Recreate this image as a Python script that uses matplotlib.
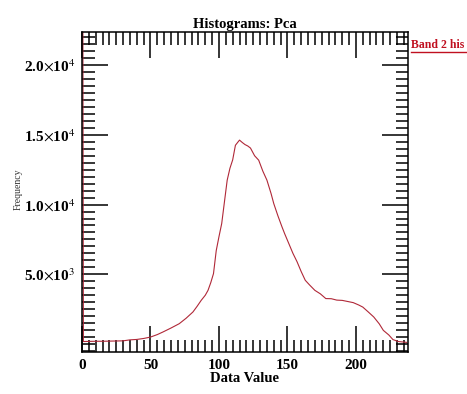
import numpy as np
import matplotlib.pyplot as plt
from matplotlib.lines import Line2D
from matplotlib.ticker import MultipleLocator

# Histogram of band 2
data_value = [0, 1, 5, 10, 15, 20, 25, 30, 35, 40, 45, 50, 55, 59, 65, 71, 76, 81, 84,
              87, 90, 92, 94, 96, 98, 100, 102, 104, 106, 108, 110, 112, 114, 115,
              117, 119, 121, 123, 126, 129, 132, 135, 138, 140, 143, 146, 148, 151,
              154, 157, 160, 163, 166, 170, 174, 178, 182, 186, 190, 194, 198, 202,
              205, 209, 213, 217, 220, 224, 227, 231, 235, 237]
frequency = [60000, 180, 190, 200, 200, 210, 220, 230, 300, 330, 400, 500, 680, 860,
             1150, 1460, 1850, 2300, 2700, 3130, 3500, 3850, 4400, 5050, 6700, 7700,
             8640, 10200, 11750, 12600, 13200, 14250, 14500, 14620, 14450, 14300,
             14200, 14050, 13500, 13180, 12400, 11750, 10800, 10070, 9200, 8400,
             7900, 7200, 6500, 5900, 5200, 4570, 4250, 3850, 3600, 3260, 3250, 3150,
             3130, 3050, 2970, 2800, 2650, 2300, 1940, 1450, 980, 650, 320, 180, 140, 120]

ytick_vals = [5000, 10000, 15000, 20000]
ytick_labels = [r'5.0$\times$10$^3$', r'1.0$\times$10$^4$', r'1.5$\times$10$^4$', r'2.0$\times$10$^4$']
xtick_vals = [0, 50, 100, 150, 200]

plt.rcParams['font.family'] = ['Liberation Serif', 'DejaVu Serif']
plt.rcParams['mathtext.fontset'] = 'stix'

fig = plt.figure(figsize=(4.67, 3.94), dpi=100)
ax = fig.add_axes([82 / 467, 42 / 394, 326 / 467, 320 / 394])

ax.plot(data_value, frequency, color='#b02838', linewidth=0.8)
ax.set_xlim(0, 238)
ax.set_ylim(-570, 22370)

ax.set_xticks(xtick_vals)
ax.set_xticklabels([str(v) for v in xtick_vals], fontsize=11, fontweight='bold')
ax.set_yticks(ytick_vals)
ax.set_yticklabels(ytick_labels, fontsize=11, fontweight='bold')
ax.xaxis.set_minor_locator(MultipleLocator(5))
ax.yaxis.set_minor_locator(MultipleLocator(500))
ax.tick_params(which='both', direction='in', top=True, right=True, color='black', width=1.1)
ax.tick_params(which='major', length=19, pad=5)
ax.tick_params(which='minor', length=9)
for s in ax.spines.values():
    s.set_linewidth(1.1)

ax.set_title('Histograms: Pca', fontsize=10.5, fontweight='bold', pad=3)
ax.set_xlabel('Data Value', fontsize=10.5, fontweight='bold', labelpad=0)
fig.text(18 / 467, 0.52, 'Frequency', rotation=90, fontsize=7, color='#333333',
         ha='center', va='center')

fig.text(411 / 467, 1 - 45 / 394, 'Band 2 his', color='#c01020', fontsize=8.5,
         fontweight='bold', ha='left', va='center')
fig.add_artist(Line2D([411 / 467, 1.0], [1 - 52 / 394] * 2, color='#c01020', linewidth=1.0))

fig.savefig('out.png', dpi=100)
